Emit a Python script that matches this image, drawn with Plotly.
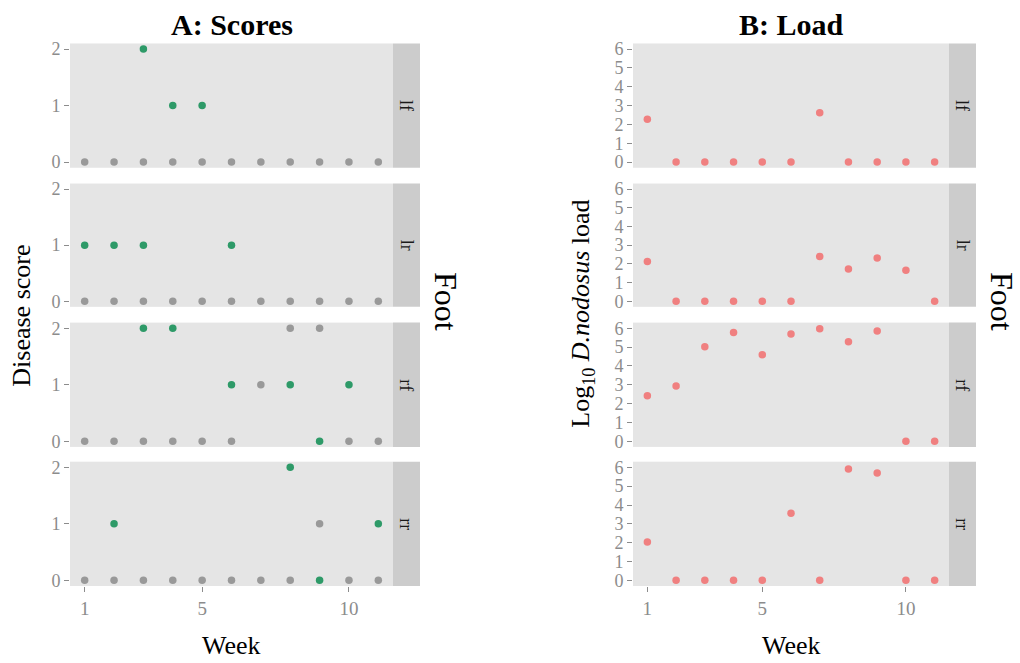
import plotly.graph_objects as go

W, H = 1020, 663

weeks = [1, 2, 3, 4, 5, 6, 7, 8, 9, 10, 11]
feet = ["lf", "lr", "rf", "rr"]

# Disease scores: baseline series (grey) and highlighted series (green)
score_base_lf = [0, 0, 0, 0, 0, 0, 0, 0, 0, 0, 0]
score_base_lr = [0, 0, 0, 0, 0, 0, 0, 0, 0, 0, 0]
score_base_rf = [0, 0, 0, 0, 0, 0, 1, 2, 2, 0, 0]
score_base_rr = [0, 0, 0, 0, 0, 0, 0, 0, 1, 0, 0]

score_mark_lf = [None, None, 2, 1, 1, None, None, None, None, None, None]
score_mark_lr = [1, 1, 1, None, None, 1, None, None, None, None, None]
score_mark_rf = [None, None, 2, 2, None, 1, None, 1, 0, 1, None]
score_mark_rr = [None, 1, None, None, None, None, None, 2, 0, None, 1]

# Log10 D. nodosus load per foot
load_lf = [2.27, 0, 0, 0, 0, 0, 2.62, 0, 0, 0, 0]
load_lr = [2.12, 0, 0, 0, 0, 0, 2.40, 1.73, 2.31, 1.66, 0]
load_rf = [2.42, 2.93, 5.02, 5.77, 4.60, 5.70, 5.98, 5.29, 5.86, 0, 0]
load_rr = [2.04, 0, 0, 0, 0, 3.56, 0, 5.91, 5.70, 0, 0]

score_base = [score_base_lf, score_base_lr, score_base_rf, score_base_rr]
score_mark = [score_mark_lf, score_mark_lr, score_mark_rf, score_mark_rr]
load = [load_lf, load_lr, load_rf, load_rr]

GREY_PT = "#999999"
GREEN_PT = "#2E9A68"
SALMON_PT = "#F08080"
TICK_GREY = "#8C8C8C"
SERIF = "Liberation Serif, Times New Roman, serif"

# pixel geometry of panels
rows_px = [(40, 166), (182, 307), (323, 449), (464, 590)]
colA = (70, 393, 420)
colB = (633, 949, 976)


def xdom(c):
    return [c[0] / W, c[1] / W]


def ydom(r):
    return [1 - r[1] / H, 1 - r[0] / H]


fig = go.Figure()
layout = dict(
    width=W, height=H,
    margin=dict(l=0, r=0, t=0, b=0),
    paper_bgcolor="white", plot_bgcolor="#E5E5E5",
    showlegend=False,
    font=dict(family=SERIF, color="black"),
)
shapes = []
annotations = []

idx = 0
for col, (cpx, yrange, ytv) in enumerate([
    (colA, [-0.1, 2.1], [0, 1, 2]),
    (colB, [-0.3, 6.3], [0, 1, 2, 3, 4, 5, 6]),
]):
    for r, foot in enumerate(feet):
        idx += 1
        xa = "x" if idx == 1 else f"x{idx}"
        ya = "y" if idx == 1 else f"y{idx}"
        bottom = r == 3
        layout["xaxis" if idx == 1 else f"xaxis{idx}"] = dict(
            domain=xdom(cpx), anchor=ya, range=[0.5, 11.5],
            showgrid=False, zeroline=False, showline=False,
            tickvals=[1, 5, 10], ticktext=["1", "5", "10"],
            ticks="outside" if bottom else "", ticklen=5, tickwidth=1,
            tickcolor=TICK_GREY, showticklabels=bottom,
            tickfont=dict(family=SERIF, size=19, color=TICK_GREY),
        )
        layout["yaxis" if idx == 1 else f"yaxis{idx}"] = dict(
            domain=ydom(rows_px[r]), anchor=xa, range=yrange,
            showgrid=False, zeroline=False, showline=False,
            tickvals=ytv, ticks="outside", ticklen=5, tickwidth=1,
            tickcolor=TICK_GREY,
            tickfont=dict(family=SERIF, size=18, color=TICK_GREY),
        )
        if col == 0:
            fig.add_trace(go.Scatter(
                x=weeks, y=score_base[r], mode="markers", xaxis=xa, yaxis=ya,
                marker=dict(color=GREY_PT, size=7.5, line=dict(width=0)),
            ))
            fig.add_trace(go.Scatter(
                x=weeks, y=score_mark[r], mode="markers", xaxis=xa, yaxis=ya,
                marker=dict(color=GREEN_PT, size=7.5, line=dict(width=0)),
            ))
        else:
            fig.add_trace(go.Scatter(
                x=weeks, y=load[r], mode="markers", xaxis=xa, yaxis=ya,
                marker=dict(color=SALMON_PT, size=7.5, line=dict(width=0)),
            ))
        # facet strip
        y0, y1 = ydom(rows_px[r])
        shapes.append(dict(
            type="rect", xref="paper", yref="paper",
            x0=cpx[1] / W, x1=cpx[2] / W, y0=y0, y1=y1,
            fillcolor="#CCCCCC", line=dict(width=0), layer="below",
        ))
        annotations.append(dict(
            xref="paper", yref="paper", x=(cpx[1] + cpx[2]) / 2 / W,
            y=(y0 + y1) / 2, text=foot, showarrow=False, textangle=90,
            font=dict(family=SERIF, size=18, color="#1A1A1A"),
            xanchor="center", yanchor="middle",
        ))

# panel titles
annotations += [
    dict(xref="paper", yref="paper", x=(70 + 393) / 2 / W, y=1 - 21 / H,
         text="<b>A: Scores</b>", showarrow=False,
         font=dict(family=SERIF, size=30, color="black"),
         xanchor="center", yanchor="middle"),
    dict(xref="paper", yref="paper", x=(633 + 949) / 2 / W, y=1 - 21 / H,
         text="<b>B: Load</b>", showarrow=False,
         font=dict(family=SERIF, size=30, color="black"),
         xanchor="center", yanchor="middle"),
]

# axis titles
annotations += [
    dict(xref="paper", yref="paper", x=22 / W, y=1 - 316 / H,
         text="Disease score", showarrow=False, textangle=-90,
         font=dict(family=SERIF, size=26, color="black"),
         xanchor="center", yanchor="middle"),
    dict(xref="paper", yref="paper", x=582 / W, y=1 - 314 / H,
         text="Log<sub>10</sub> <i>D.nodosus</i> load",
         showarrow=False, textangle=-90,
         font=dict(family=SERIF, size=26, color="black"),
         xanchor="center", yanchor="middle"),
    dict(xref="paper", yref="paper", x=446 / W, y=1 - 301 / H, text="Foot",
         showarrow=False, textangle=90,
         font=dict(family=SERIF, size=32, color="black"),
         xanchor="center", yanchor="middle"),
    dict(xref="paper", yref="paper", x=1002 / W, y=1 - 301 / H, text="Foot",
         showarrow=False, textangle=90,
         font=dict(family=SERIF, size=32, color="black"),
         xanchor="center", yanchor="middle"),
    dict(xref="paper", yref="paper", x=(70 + 393) / 2 / W, y=1 - 650 / H,
         text="Week", showarrow=False,
         font=dict(family=SERIF, size=26, color="black"),
         xanchor="center", yanchor="middle"),
    dict(xref="paper", yref="paper", x=(633 + 949) / 2 / W, y=1 - 650 / H,
         text="Week", showarrow=False,
         font=dict(family=SERIF, size=26, color="black"),
         xanchor="center", yanchor="middle"),
]

layout["shapes"] = shapes
layout["annotations"] = annotations
fig.update_layout(**layout)
fig.write_html("out.html")
